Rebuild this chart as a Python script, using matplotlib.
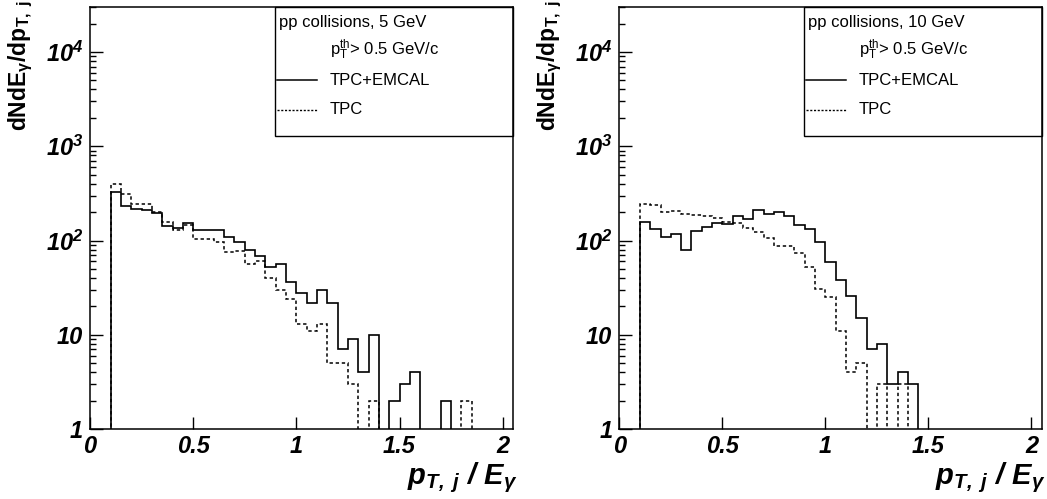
import numpy as np
import matplotlib
matplotlib.use("Agg")
import matplotlib.pyplot as plt
from matplotlib.ticker import FixedLocator, LogLocator, FixedFormatter, NullFormatter
from matplotlib.patches import Rectangle
from matplotlib.lines import Line2D

plt.rcParams["font.family"] = "Liberation Sans"
plt.rcParams["mathtext.fontset"] = "custom"
plt.rcParams["mathtext.rm"] = "Liberation Sans"
plt.rcParams["mathtext.it"] = "Liberation Sans:italic"
plt.rcParams["mathtext.bf"] = "Liberation Sans:bold"
plt.rcParams["mathtext.bfit"] = "Liberation Sans:italic:bold"

# binning: first bin starts at 0.1, width 0.05
bin_start = 0.1
bin_width = 0.05

# 5 GeV
tpc_emcal_5 = [331, 233, 217, 211, 195, 144, 135, 155, 130, 130, 130, 108, 96, 80, 69, 52,
               57, 36, 28, 22, 30, 22, 7, 9, 4, 10, 0, 2, 3, 4, 0, 0, 2, 0, 0, 0, 0, 0]
tpc_5 = [399, 310, 245, 245, 200, 158, 128, 147, 105, 105, 96, 75, 78, 57, 60, 40,
         30, 24, 13, 11, 13, 5, 5, 3, 0, 2, 0, 0, 0, 0, 0, 0, 0, 0, 2, 0, 0, 0]
# 10 GeV
tpc_emcal_10 = [159, 134, 109, 117, 80, 125, 140, 153, 149, 180, 170, 210, 193, 201, 183, 146,
                133, 96, 59, 38, 26, 15, 7, 8, 3, 4, 3, 0, 0, 0, 0, 0, 0, 0, 0, 0, 0, 0]
tpc_10 = [247, 237, 203, 207, 192, 187, 180, 174, 159, 153, 135, 122, 106, 88, 88, 73,
          52, 31, 25, 11, 4, 5, 0, 3, 0, 3, 0, 0, 0, 0, 0, 0, 0, 0, 0, 0, 0, 0]

titles = ["pp collisions, 5 GeV", "pp collisions, 10 GeV"]
xticks = [0, 0.5, 1, 1.5, 2]
xticklabels = ["0", "0.5", "1", "1.5", "2"]
yticks = [1, 10, 100, 1000, 10000]
yticklabels = ["1", "10", r"$\mathbfit{10^{2}}$", r"$\mathbfit{10^{3}}$", r"$\mathbfit{10^{4}}$"]

fig = plt.figure(figsize=(10.47, 4.99), dpi=100)
axes = [fig.add_axes([0.086, 0.140, 0.404, 0.846]),
        fig.add_axes([0.5915, 0.140, 0.4035, 0.846])]

sets = [(tpc_emcal_5, tpc_5), (tpc_emcal_10, tpc_10)]
floor = 1e-2
for ax, (solid, dashed), title in zip(axes, sets, titles):
    n = len(solid)
    edges = bin_start + bin_width * np.arange(n + 1)
    ax.stairs(np.maximum(np.array(dashed, float), floor), edges, baseline=floor,
              color="k", lw=1.1, ls=(0, (2.2, 1.8)))
    ax.stairs(np.maximum(np.array(solid, float), floor), edges, baseline=floor,
              color="k", lw=1.2)
    ax.set_yscale("log")
    ax.set_xlim(0, 2.05)
    ax.set_ylim(1, 3.0e4)

    ax.xaxis.set_major_locator(FixedLocator(xticks))
    ax.xaxis.set_major_formatter(FixedFormatter(xticklabels))
    ax.yaxis.set_major_locator(FixedLocator(yticks))
    ax.yaxis.set_major_formatter(FixedFormatter(yticklabels))
    ax.yaxis.set_minor_locator(LogLocator(base=10, subs=np.arange(2, 10)))
    ax.yaxis.set_minor_formatter(NullFormatter())
    ax.tick_params(which="both", direction="in", top=False, right=False, width=1.0)
    ax.tick_params(axis="x", which="major", length=9, pad=4, labelsize=17)
    ax.tick_params(axis="y", which="major", length=9, pad=5, labelsize=17)
    ax.tick_params(axis="y", which="minor", length=4.5)
    for lab in ax.get_xticklabels() + ax.get_yticklabels():
        lab.set_fontweight("bold")
        lab.set_fontstyle("italic")
    for sp in ax.spines.values():
        sp.set_linewidth(1.1)

    ax.set_xlabel(r"$\mathbfit{p_{T,\ j}\ /\ E_{\gamma}}$", fontsize=21, loc="right")
    ax.xaxis.set_label_coords(1.01, -0.075)
    ax.set_ylabel(r"dNdE$_{\mathbf{\gamma}}$/dp$_{\mathbf{T,\ j}}$", fontsize=16.5,
                  fontweight="bold", loc="top")
    ax.yaxis.set_label_coords(-0.13, 1.015)

    # legend box
    x0, y0 = 0.437, 0.695
    ax.add_patch(Rectangle((x0, y0), 1 - x0, 1 - y0, transform=ax.transAxes,
                           fill=False, lw=1.0, ec="k", clip_on=False))
    ax.text(x0 + 0.01, 0.964, title, transform=ax.transAxes, fontsize=12,
            va="center", ha="left")
    ax.text(x0 + 0.13, 0.898, r"p$_{\mathrm{T}}^{\mathrm{th}}$> 0.5 GeV/c",
            transform=ax.transAxes, fontsize=12, va="center", ha="left")
    ax.add_line(Line2D([x0 + 0.005, x0 + 0.1], [0.827, 0.827], transform=ax.transAxes,
                       color="k", lw=1.1))
    ax.text(x0 + 0.13, 0.827, "TPC+EMCAL", transform=ax.transAxes, fontsize=12,
            va="center", ha="left")
    ax.add_line(Line2D([x0 + 0.005, x0 + 0.1], [0.756, 0.756], transform=ax.transAxes,
                       color="k", lw=1.0, ls=(0, (1.5, 1.2))))
    ax.text(x0 + 0.13, 0.756, "TPC", transform=ax.transAxes, fontsize=12,
            va="center", ha="left")

fig.savefig("out.png", dpi=100)
